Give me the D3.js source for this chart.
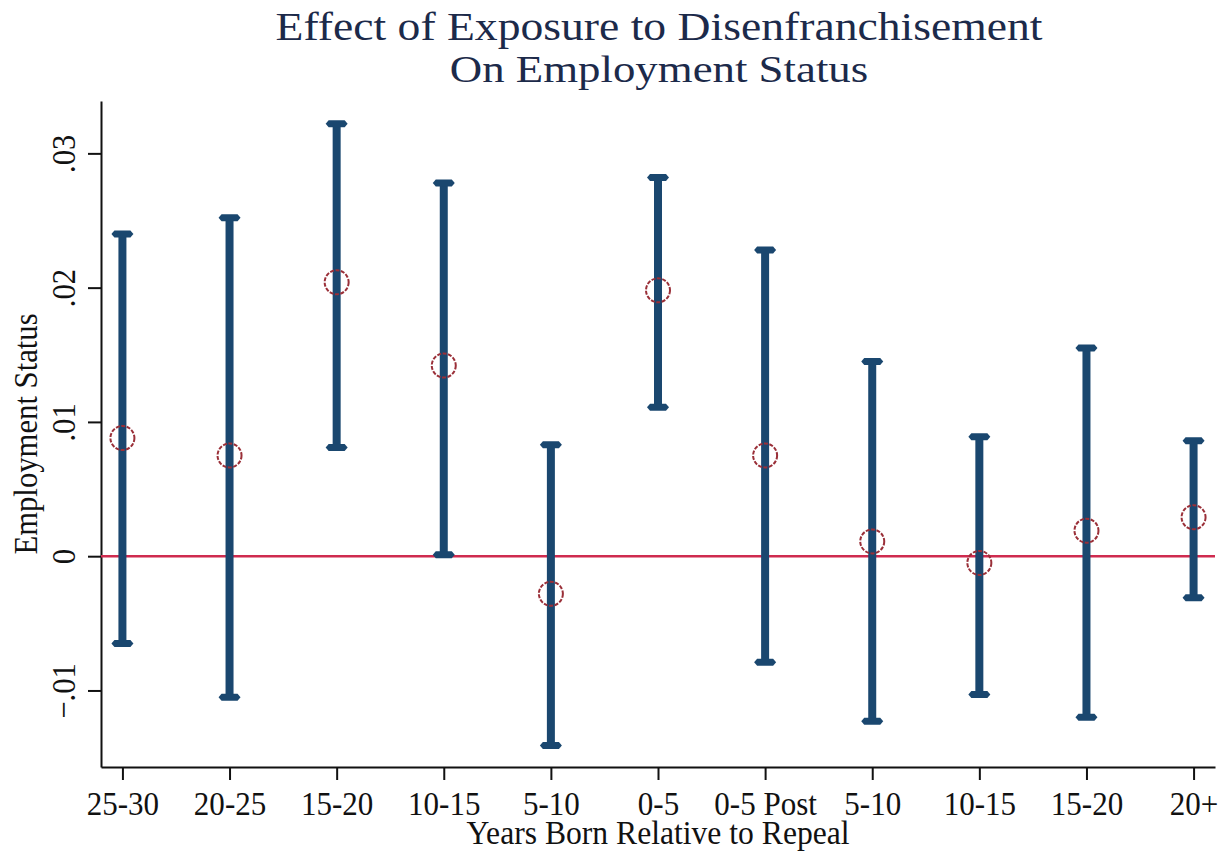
<!DOCTYPE html>
<html>
<head>
<meta charset="utf-8">
<script src="https://cdn.jsdelivr.net/npm/d3@7"></script>
<style>
    body { margin: 0; background: #fff; }
    text { font-family: "Liberation Serif", "Times New Roman", serif; }
</style>
</head>
<body>
<svg id="chart" width="1228" height="855"></svg>
<script>
// cohorts, years born relative to repeal
let groups = ["25-30", "20-25", "15-20", "10-15", "5-10", "0-5", "0-5 Post", "5-10", "10-15", "15-20", "20+"];
// point estimates and confidence bounds
let estimates = [0.0088, 0.0075, 0.0204, 0.0142, -0.0028, 0.0198, 0.0075, 0.0011, -0.0005, 0.0019, 0.0029];
let lower = [-0.0065, -0.0105, 0.0081, 0.0001, -0.0141, 0.0111, -0.0079, -0.0123, -0.0103, -0.0120, -0.0031];
let upper = [0.0240, 0.0252, 0.0322, 0.0278, 0.0083, 0.0282, 0.0228, 0.0145, 0.0089, 0.0155, 0.0086];
let yTicks = [-0.01, 0, 0.01, 0.02, 0.03];

const plotLeft = 101, plotRight = 1215, plotTop = 101, plotBottom = 767;
const navy = "#1a476f";
const maroon = "#9a2f38";

let svg = d3.select("#chart");

let x = d3.scalePoint()
    .domain(d3.range(groups.length))
    .range([plotLeft, plotRight])
    .padding(0.2);

let y = d3.scaleLinear()
    .domain([-0.0157, 0.0339])
    .range([plotBottom, plotTop]);

// titles
svg.append("g")
    .attr("transform", "translate(659, 40) scale(1.17, 1)")
    .append("text")
    .attr("text-anchor", "middle")
    .style("font-size", "39px")
    .attr("fill", "#1c2a4a")
    .text("Effect of Exposure to Disenfranchisement");
svg.append("g")
    .attr("transform", "translate(659, 82) scale(1.15, 1)")
    .append("text")
    .attr("text-anchor", "middle")
    .style("font-size", "39px")
    .attr("fill", "#1c2a4a")
    .text("On Employment Status");

// x axis
let xAxis = svg.append("g")
    .attr("transform", `translate(0, ${plotBottom})`)
    .call(d3.axisBottom(x)
        .tickFormat(i => groups[i])
        .tickSizeInner(13)
        .tickSizeOuter(0));
xAxis.select(".domain").attr("stroke", "#111").attr("stroke-width", 2);
xAxis.selectAll(".tick line").attr("stroke", "#111").attr("stroke-width", 2);
xAxis.selectAll(".tick text")
    .attr("y", 0)
    .attr("dy", 0)
    .attr("fill", "#111")
    .style("font-size", "33px")
    .attr("transform", "translate(0, 48) scale(0.94, 1)");

// y axis
let yAxis = svg.append("g")
    .attr("transform", `translate(${plotLeft}, 0)`)
    .call(d3.axisLeft(y)
        .tickValues(yTicks)
        .tickFormat(d => d === 0 ? "0" : d3.format(".2f")(d).replace("0.", "."))
        .tickSizeInner(13)
        .tickSizeOuter(0));
yAxis.select(".domain").attr("stroke", "#111").attr("stroke-width", 2);
yAxis.selectAll(".tick line").attr("stroke", "#111").attr("stroke-width", 2);
yAxis.selectAll(".tick text")
    .attr("x", 0)
    .attr("dy", 0)
    .attr("text-anchor", "middle")
    .attr("fill", "#111")
    .style("font-size", "34px")
    .attr("transform", "translate(-26, 0) rotate(-90) scale(0.9, 1)");

// axis titles
svg.append("g")
    .attr("transform", `translate(${(plotLeft + plotRight) / 2}, 844) scale(0.93, 1)`)
    .append("text")
    .attr("text-anchor", "middle")
    .style("font-size", "34px")
    .attr("fill", "#111")
    .text("Years Born Relative to Repeal");
svg.append("g")
    .attr("transform", `translate(37, ${(plotTop + plotBottom) / 2}) rotate(-90) scale(0.93, 1)`)
    .append("text")
    .attr("text-anchor", "middle")
    .style("font-size", "33px")
    .attr("fill", "#111")
    .text("Employment Status");

// zero line
svg.append("line")
    .attr("x1", plotLeft)
    .attr("x2", plotRight)
    .attr("y1", y(0))
    .attr("y2", y(0))
    .attr("stroke", "#cf2b4f")
    .attr("stroke-width", 2.5);

let idx = d3.range(groups.length);

// spikes
svg.selectAll(".spike")
    .data(idx)
    .enter().append("line")
        .attr("class", "spike")
        .attr("x1", i => x(i))
        .attr("x2", i => x(i))
        .attr("y1", i => y(lower[i]))
        .attr("y2", i => y(upper[i]))
        .attr("stroke", navy)
        .attr("stroke-width", 8);

// caps
const cap = "M -11,0 L -8,-3.5 L 8,-3.5 L 11,0 L 8,3.5 L -8,3.5 Z";
svg.selectAll(".capTop")
    .data(idx)
    .enter().append("path")
        .attr("class", "capTop")
        .attr("d", cap)
        .attr("transform", i => `translate(${x(i)}, ${y(upper[i])})`)
        .attr("fill", navy);
svg.selectAll(".capBottom")
    .data(idx)
    .enter().append("path")
        .attr("class", "capBottom")
        .attr("d", cap)
        .attr("transform", i => `translate(${x(i)}, ${y(lower[i])})`)
        .attr("fill", navy);

// point estimates, hollow circles
svg.selectAll(".est")
    .data(idx)
    .enter().append("circle")
        .attr("class", "est")
        .attr("cx", i => x(i))
        .attr("cy", i => y(estimates[i]))
        .attr("r", 12)
        .attr("fill", "none")
        .attr("stroke", maroon)
        .attr("stroke-width", 2)
        .style("stroke-dasharray", "4,1.5");
</script>
</body>
</html>
